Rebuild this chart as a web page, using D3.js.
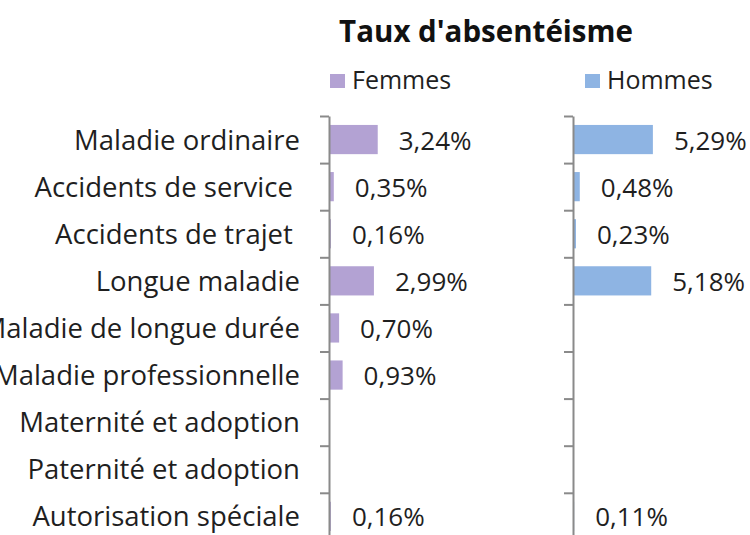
<!DOCTYPE html>
<html>
<head>
<meta charset="utf-8">
<script src="https://cdn.jsdelivr.net/npm/d3@7"></script>
<style>
  body { margin: 0; background: #fff; }
  svg { display: block; }
  text { font-family: "Open Sans", Lato, sans-serif; fill: #1f1f1f; font-variant-ligatures: none; }
</style>
</head>
<body>
<div id="chart"></div>
<script>
const CATEGORIES = [
  "Maladie ordinaire",
  "Accidents de service ",
  "Accidents de trajet ",
  "Longue maladie",
  "Maladie de longue durée",
  "Maladie professionnelle",
  "Maternité et adoption",
  "Paternité et adoption",
  "Autorisation spéciale"
];
const FEMMES = [3.24, 0.35, 0.16, 2.99, 0.70, 0.93, null, null, 0.16];
const HOMMES = [5.29, 0.48, 0.23, 5.18, null, null, null, null, 0.11];
const SERIES = ["Femmes", "Hommes"];

const WIDTH = 750;
const HEIGHT = 535;
const TOP = 116;
const BAND = 47.1;
const X_MIN = 0.1; // axis minimum
const PX_PER_UNIT = 15.2;
const COLORS = ["#b3a2d3", "#8eb4e3"];
const AXIS_X = [329, 573];

const fmt = v => v.toFixed(2).replace(".", ",") + "%";

const svg = d3.select("#chart").append("svg")
    .attr("width", WIDTH)
    .attr("height", HEIGHT);

const y = d3.scaleBand()
    .domain(CATEGORIES)
    .range([TOP, TOP + BAND * CATEGORIES.length])
    .paddingInner(0.38)
    .paddingOuter(0.19);

// boundaries between categories, for the tick marks
const yEdge = d3.scaleLinear()
    .domain([0, CATEGORIES.length])
    .range([TOP, TOP + BAND * CATEGORIES.length]);

const x = d3.scaleLinear()
    .domain([X_MIN, 6])
    .range([0, PX_PER_UNIT * (6 - X_MIN)])
    .clamp(true);

// title
svg.append("text")
    .attr("x", 486)
    .attr("y", 42)
    .attr("text-anchor", "middle")
    .style("font-weight", "bold")
    .style("font-size", "29.5px")
    .style("fill", "#111")
    .text("Taux d'absentéisme");

// category labels
svg.append("g").selectAll("text")
  .data(CATEGORIES)
  .enter().append("text")
    .attr("x", 300)
    .attr("y", d => y(d) + y.bandwidth() / 2 + 10)
    .attr("text-anchor", "end")
    .style("white-space", "pre")
    .style("font-size", "27.5px")
    .text(d => d);

[FEMMES, HOMMES].forEach((values, s) => {
  const g = svg.append("g")
      .attr("transform", `translate(${AXIS_X[s]},0)`);

  // legend
  const leg = g.append("g")
      .attr("transform", `translate(${s === 0 ? 1 : 12},0)`);
  leg.append("rect")
      .attr("x", 0)
      .attr("y", 74)
      .attr("width", 15)
      .attr("height", 14)
      .attr("fill", COLORS[s]);
  leg.append("text")
      .attr("x", 22)
      .attr("y", 89)
      .style("font-size", "25px")
      .text(SERIES[s]);

  const rows = CATEGORIES.map((c, i) => ({ cat: c, value: values[i] }))
      .filter(d => d.value != null);

  g.selectAll("rect.bar")
    .data(rows)
    .enter().append("rect")
      .attr("class", "bar")
      .attr("x", 1)
      .attr("y", d => y(d.cat))
      .attr("width", d => x(d.value))
      .attr("height", y.bandwidth())
      .attr("fill", COLORS[s]);

  g.selectAll("text.val")
    .data(rows)
    .enter().append("text")
      .attr("class", "val")
      .attr("x", d => x(d.value) + 22)
      .attr("y", d => y(d.cat) + y.bandwidth() / 2 + 10)
      .style("font-size", "26px")
      .text(d => fmt(d.value));

  const axis = g.append("g")
      .call(d3.axisLeft(yEdge)
        .tickValues(d3.range(0, CATEGORIES.length + 1))
        .tickSize(9)
        .tickSizeOuter(0)
        .tickFormat(""));
  axis.select(".domain")
      .attr("stroke", "#8a8a8a")
      .attr("stroke-width", 2);
  axis.selectAll(".tick line")
      .attr("stroke", "#8a8a8a")
      .attr("stroke-width", 2);
});
</script>
</body>
</html>
